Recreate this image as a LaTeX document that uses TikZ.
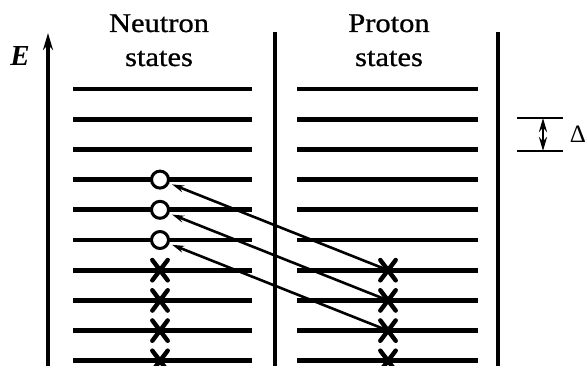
\documentclass[tikz,border=0pt]{standalone}
\usepackage{fontspec}
\setmainfont{Liberation Serif}
\newfontfamily\labfont[FakeStretch=1.13,FakeBold=0.8]{Liberation Serif}
\usetikzlibrary{arrows.meta,shapes.misc}
\tikzset{
  level/.style={line width=4.8pt},
  divider/.style={line width=3.2pt},
  hole/.style={circle, draw, fill=white, line width=3pt, minimum size=17pt, inner sep=0pt},
  part/.style={cross out, draw, line width=4.4pt, minimum width=11pt, minimum height=16pt, inner sep=0pt, line cap=round},
  jump/.style={line width=2.6pt, -{Stealth[length=12pt,width=7pt]}, shorten >=3pt},
  lab/.style={font=\labfont\fontsize{27}{33}\selectfont, anchor=base, inner sep=0pt},
}
\begin{document}
\begin{tikzpicture}[x=1pt,y=-1pt]
\useasboundingbox (0,0) rectangle (587,366);
% axis
\coordinate (ebot) at (48,366);
\coordinate (etop) at (48,33);
\draw[line width=3.2pt, -{Stealth[length=17pt,width=10pt]}] (ebot) -- (etop);
\node[anchor=base, inner sep=0pt, font=\fontsize{29}{32}\selectfont\bfseries\itshape] (E) at (20,66) {E};
% dividers
\coordinate (d1t) at (275,32); \coordinate (d1b) at (275,366);
\coordinate (d2t) at (498,32); \coordinate (d2b) at (498,366);
\draw[divider] (d1t) -- (d1b);
\draw[divider] (d2t) -- (d2b);
% titles
\node[lab] (nt1) at (159,32) {Neutron};
\node[lab] (nt2) at (159,66) {states};
\node[lab] (pt1) at (389,32) {Proton};
\node[lab] (pt2) at (389,66) {states};
% levels
\foreach \i/\y in {0/89,1/119.2,2/149.4,3/179.6,4/209.8,5/240,6/270.2,7/300.4,8/330.6,9/360.8}{
  \coordinate (nl\i) at (73,\y); \coordinate (nr\i) at (252,\y);
  \coordinate (pl\i) at (297,\y); \coordinate (pr\i) at (478,\y);
  \draw[level] (nl\i) -- (nr\i);
  \draw[level] (pl\i) -- (pr\i);
}
% neutron holes
\node[hole] (h3) at (160,179.6) {};
\node[hole] (h4) at (160,209.8) {};
\node[hole] (h5) at (160,240) {};
% neutron particles
\foreach \i/\y in {6/270.2,7/300.4,8/330.6,9/360.8}{
  \node[part] (np\i) at (160,\y) {};
}
% proton particles
\foreach \i/\y in {6/270.2,7/300.4,8/330.6,9/360.8}{
  \node[part] (pp\i) at (388,\y) {};
}
% transitions
\draw[jump] (pp6.center) -- (h3);
\draw[jump] (pp7.center) -- (h4);
\draw[jump] (pp8.center) -- (h5);
% Delta marker
\coordinate (dtl) at (517,118); \coordinate (dtr) at (563,118);
\coordinate (dbl) at (517,151); \coordinate (dbr) at (563,151);
\coordinate (dat) at (543,118); \coordinate (dab) at (543,151);
\draw[line width=2.6pt] (dtl) -- (dtr);
\draw[line width=2.6pt] (dbl) -- (dbr);
\draw[line width=2.6pt, {Stealth[length=14pt,width=8pt]}-{Stealth[length=14pt,width=8pt]}] (dab) -- (dat);
\node[anchor=base, inner sep=0pt, font=\fontsize{25}{28}\selectfont] (delta) at (578,143) {Δ};
\end{tikzpicture}
\end{document}
